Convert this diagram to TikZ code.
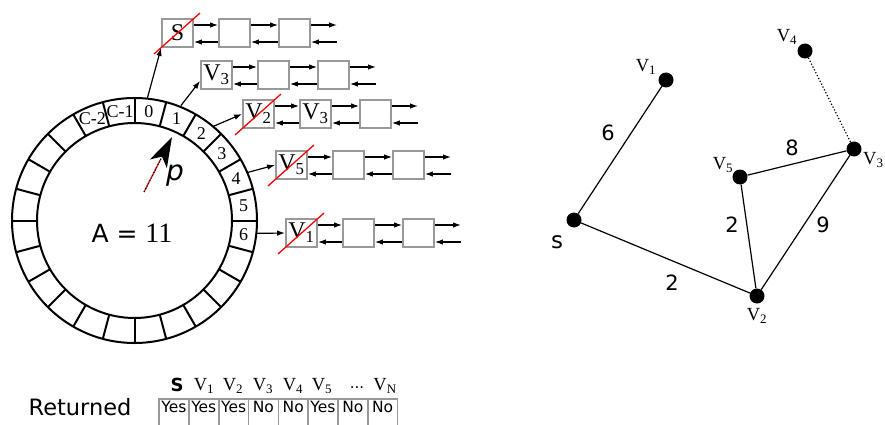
\documentclass[tikz,border=0pt]{standalone}
\usepackage{fontspec}
\setmainfont{Liberation Serif}
\newfontfamily\sansf{DejaVu Sans}
\usetikzlibrary{arrows.meta}

% one doubly linked list: three boxes, links between them and a dangling pair at the end
\newcommand{\dlrow}[5]{%
  \node[lbox] (#1a) at (#2+15.5,#3) {#4};
  \node[lbox] (#1b) at (#2+72.5,#3) {#5};
  \node[lbox] (#1c) at (#2+132.5,#3) {};
  \coordinate (#1t) at (#2+175,#3);
  \draw[larr] ([yshift=8pt]#1a.east) -- ([yshift=8pt]#1b.west);
  \draw[larr] ([yshift=-9pt]#1b.west) -- ([yshift=-9pt]#1a.east);
  \draw[larr] ([yshift=8pt]#1b.east) -- ([yshift=8pt]#1c.west);
  \draw[larr] ([yshift=-9pt]#1c.west) -- ([yshift=-9pt]#1b.east);
  \draw[larr] ([yshift=8pt]#1c.east) -- ([yshift=8pt]#1t);
  \draw[larr] ([yshift=-9pt]#1t) -- ([yshift=-9pt]#1c.east);
}
% red cross-out through the first box of a list
\newcommand{\struck}[1]{%
  \draw[strike] ([shift={(-7pt,-6pt)}]#1a.south west) -- ([shift={(6pt,5pt)}]#1a.north east);
}

\begin{document}
\begin{tikzpicture}[x=1pt,y=-1pt,
  ring/.style={line width=2pt},
  ringlab/.style={inner sep=0pt, font=\fontsize{18}{18}\selectfont},
  lbox/.style={draw=black!40, line width=1.8pt, minimum width=31pt, minimum height=28pt,
               inner sep=0pt, font=\fontsize{24}{24}\selectfont},
  larr/.style={line width=1.2pt, -{Latex[length=8pt,width=5.5pt]}},
  strike/.style={red, line width=1.3pt},
  vtx/.style={circle, fill=black, inner sep=0pt, minimum size=15pt},
  edge/.style={line width=1.2pt},
  wlab/.style={inner sep=0pt, font=\sansf\fontsize{21}{21}\selectfont},
  vlab/.style={inner sep=0pt, font=\fontsize{18.5}{18.5}\selectfont},
  tcell/.style={draw=black!40, line width=1.6pt, anchor=north, minimum width=29.8pt,
                minimum height=28pt, inner sep=0pt, text height=10pt, text depth=10pt,
                font=\sansf\fontsize{15.5}{15.5}\selectfont},
  hlab/.style={inner sep=0pt, font=\fontsize{18.5}{18.5}\selectfont},
]
\useasboundingbox (0,0) rectangle (885,425);

% ---- circular bucket array ----
\coordinate (O) at (134.5,220.5);
\draw[ring] (O) circle (122.5);
\draw[ring] (O) circle (97.5);
\foreach \a in {0,15,...,345}
  \draw[ring, shift={(O)}] (\a:97.5) -- (\a:122.5);
\foreach \i in {0,...,6}
  \node[ringlab] (b\i) at ([shift={(15*\i-82.5:110)}]O) {\i};
\node[ringlab] (bc1) at ([shift={(-97.5:110)}]O) {C-1};
\node[ringlab] (bc2) at ([shift={(-112.5:110)}]O) {C-2};
\node[inner sep=0pt] (area) at (132,233)
  {\fontsize{25}{25}\selectfont\sansf A = \rmfamily\fontsize{28}{28}\selectfont 11};

% pointer p
\coordinate (pbase) at (144,192);
\coordinate (ptip) at (172,137);
\draw[line width=1.3pt, black, dash pattern=on 1.5pt off 1.5pt,
      -{Stealth[length=30pt,width=19pt,inset=8pt,fill=black]}] (pbase) -- (ptip);
\draw[line width=1.3pt, red, dash pattern=on 1.5pt off 1.5pt, dash phase=1.5pt,
      shorten >=26pt] (pbase) -- (ptip);
\node[inner sep=0pt, font=\sansf\itshape\fontsize{28}{28}\selectfont] (plab) at (175,176) {p};

% ---- bucket lists ----
\dlrow{ra}{162}{33}{S}{}
\dlrow{rb}{201}{75}{V\textsubscript{3}}{}
\dlrow{rc}{243}{114}{V\textsubscript{2}}{V\textsubscript{3}}
\dlrow{rd}{276}{165}{V\textsubscript{5}}{}
\dlrow{re}{286}{233}{V\textsubscript{1}}{}
\struck{ra}
\struck{rc}
\struck{rd}
\struck{re}

\coordinate (k0) at ([shift={(-84:123)}]O);
\coordinate (k1) at ([shift={(-68:124)}]O);
\coordinate (k2) at ([shift={(-50:123)}]O);
\coordinate (k4) at ([shift={(-23:123)}]O);
\coordinate (k6) at ([shift={(6:123)}]O);
\draw[larr] (k0) -- (raa.south west);
\draw[larr] (k1) -- (rba.200);
\draw[larr] (k2) -- (rca.west);
\draw[larr] (k4) -- (rda.west);
\draw[larr] (k6) -- (rea.west);

% ---- graph ----
\node[vtx] (s) at (574,220) {};
\node[vtx] (v1) at (666,80) {};
\node[vtx] (v5) at (740,177) {};
\node[vtx] (v3) at (854,149) {};
\node[vtx] (v2) at (757,296) {};
\node[vtx] (v4) at (805,51) {};
\draw[edge] (s) -- (v1);
\draw[edge] (s) -- (v2);
\draw[edge] (v5) -- (v3);
\draw[edge] (v5) -- (v2);
\draw[edge] (v2) -- (v3);
\draw[line width=1.2pt, dotted] (v4) -- (v3);
\node[wlab] (w1) at (608,133) {6};
\node[wlab] (w2) at (672,283) {2};
\node[wlab] (w3) at (792,148) {8};
\node[wlab] (w4) at (732,225) {2};
\node[wlab] (w5) at (823,225) {9};
\node[inner sep=0pt, font=\sansf\fontsize{23}{23}\selectfont] (ls) at (557,242) {s};
\node[vlab] (l1) at (646,67) {V\textsubscript{1}};
\node[vlab] (l5) at (723,165) {V\textsubscript{5}};
\node[vlab, anchor=west] (l3) at (863,160) {V\textsubscript{3}};
\node[vlab] (l2) at (757,316) {V\textsubscript{2}};
\node[vlab] (l4) at (787,37) {V\textsubscript{4}};

% ---- returned table ----
\node[inner sep=0pt, font=\sansf\fontsize{22.5}{22.5}\selectfont] (ret) at (80,407) {Returned};
\foreach \t [count=\i from 0] in {Yes,Yes,Yes,No,No,Yes,No,No}
  \node[tcell] (t\i) at (174+29.8*\i,398) {\t};
\node[inner sep=0pt, font=\sansf\bfseries\fontsize{18}{18}\selectfont] (h0) at (177,385) {S};
\node[hlab] (h1) at (204,386) {V\textsubscript{1}};
\node[hlab] (h2) at (233,386) {V\textsubscript{2}};
\node[hlab] (h3) at (263,386) {V\textsubscript{3}};
\node[hlab] (h4) at (293,386) {V\textsubscript{4}};
\node[hlab] (h5) at (322,386) {V\textsubscript{5}};
\node[inner sep=0pt, font=\sansf\fontsize{15}{15}\selectfont] (h6) at (357,388) {...};
\node[hlab] (h7) at (385,386) {V\textsubscript{N}};
\end{tikzpicture}
\end{document}
